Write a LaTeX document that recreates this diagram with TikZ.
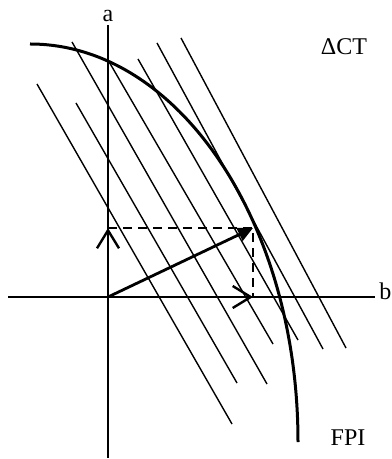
\documentclass[tikz,border=0pt]{standalone}
\usepackage{fontspec}
\setmainfont{Liberation Serif}
\usetikzlibrary{arrows.meta}
\tikzset{
  axis/.style     = {line width=1.1pt},
  frontier/.style = {line width=1.5pt},
  isoline/.style  = {line width=0.7pt},
  comp/.style     = {line width=1.2pt, -{Straight Barb[length=9pt,width=11pt,line width=1.2pt]}},
  vec/.style      = {line width=1.4pt, -{Triangle[length=7.5pt,width=7pt]}},
  guide/.style    = {line width=1.4pt, dash pattern=on 4.5pt off 3pt},
  lab/.style      = {font=\fontsize{12}{14}\selectfont, inner sep=0pt},
}

\begin{document}
\begin{tikzpicture}[x=0.5pt, y=-0.5pt]
  \useasboundingbox (0,0) rectangle (391,459);
  % axes and points
  \coordinate (O) at (108,297);
  \coordinate (P) at (253,228);
  \coordinate (A) at (O |- P);
  \coordinate (B) at (P |- O);
  \draw[axis] (8,297) -- (375,297);
  \draw[axis] (108,25) -- (108,458);
  % parallel lines
  \foreach \x/\y/\u/\v in {37/84/232/424, 76/103/237/383, 72/42/267/384,
      108/60/273/344, 138/59/298/340, 157/43/323/349, 181/38/346/348}
    \draw[isoline] (\x,\y) -- (\u,\v);
  % frontier
  \draw[frontier] (30,44) arc[start angle=-90, end angle=0, x radius=268, y radius=398];
  % vector and its parts
  \draw[guide] (A) -- (P) -- (B);
  \draw[comp] (O) -- (A);
  \draw[comp] (O) -- (B);
  \draw[vec] (O) -- (P);
  % labels
  \node[lab] (alab) at (108,16) {a};
  \node[lab, anchor=west] (blab) at (379,291) {b};
  \node[lab] (dct) at (344,47) {ΔCT};
  \node[lab] (fpi) at (348,438) {FPI};
\end{tikzpicture}
\end{document}
